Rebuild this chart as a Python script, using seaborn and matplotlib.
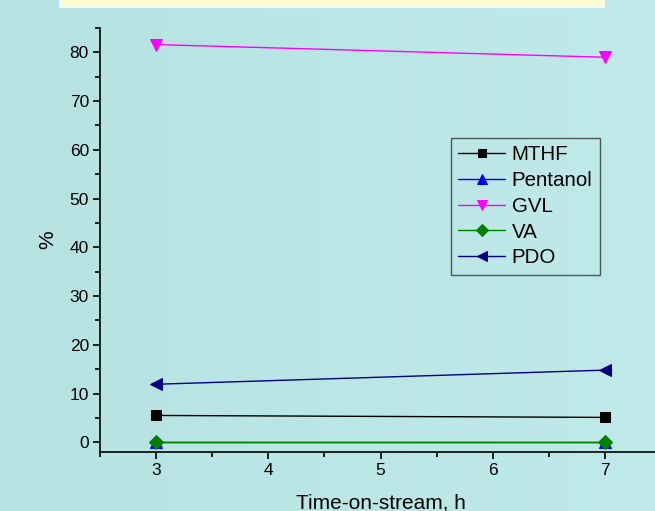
import numpy as np
import pandas as pd
import matplotlib
matplotlib.use("Agg")
import matplotlib.pyplot as plt
from matplotlib.patches import Rectangle
from matplotlib.ticker import MultipleLocator
from matplotlib.colors import LinearSegmentedColormap
import seaborn as sns

# ---- data ----
time_h = [3, 7]
mthf = [5.5, 5.1]
pentanol = [0.1, 0.1]
gvl = [81.6, 79.0]
va = [0.1, 0.1]
pdo = [11.9, 14.8]
series_names = ["MTHF", "Pentanol", "GVL", "VA", "PDO"]
x_ticks = [3, 4, 5, 6, 7]
y_ticks = [0, 10, 20, 30, 40, 50, 60, 70, 80]

sns.set_theme(style="ticks")
plt.rcParams['font.family'] = ['Liberation Sans', 'DejaVu Sans']
plt.rcParams['text.color'] = '#000000'

values = {"MTHF": mthf, "Pentanol": pentanol, "GVL": gvl, "VA": va, "PDO": pdo}
df = pd.DataFrame([
    {"time": t, "value": v, "series": name}
    for name in series_names for t, v in zip(time_h, values[name])
])

palette = {"MTHF": "#000000", "Pentanol": "#0000ff", "GVL": "#ff00ff",
           "VA": "#008000", "PDO": "#000080"}
markers = {"MTHF": "s", "Pentanol": "^", "GVL": "v", "VA": "D", "PDO": "<"}
msizes = {"MTHF": 7, "Pentanol": 8, "GVL": 9, "VA": 7, "PDO": 9}

bg = "#b9e5e5"
fig = plt.figure(figsize=(6.55, 5.11), dpi=100)
fig.patch.set_facecolor(bg)

# subtle background gradient
gax = fig.add_axes([0, 0, 1, 1], zorder=-10)
grad = np.linspace(0, 1, 512)[None, :]
cmap = LinearSegmentedColormap.from_list("bgc", ["#b6e2e2", "#c0eaea"])
gax.imshow(grad, aspect="auto", cmap=cmap, extent=[0, 1, 0, 1],
           interpolation="bilinear")
gax.axis("off")

# top yellow banner
fig.patches.append(Rectangle((60 / 655, 1 - 7 / 511), 544 / 655, 7 / 511 + 0.01,
                             transform=fig.transFigure, facecolor="#fefdcf",
                             edgecolor="#f4f8f0", linewidth=1.5, zorder=1))

ax = fig.add_axes([100 / 655, 59 / 511, 561 / 655, 424 / 511])
ax.set_facecolor("none")

for name in series_names:
    sub = df[df["series"] == name]
    sns.lineplot(data=sub, x="time", y="value", ax=ax, color=palette[name],
                 marker=markers[name], markersize=msizes[name],
                 markeredgecolor=palette[name], linewidth=1.0, label=name,
                 clip_on=False)

ax.set_xlim(2.5, 7.5)
ax.set_ylim(-2, 85)
ax.set_xticks(x_ticks)
ax.set_yticks(y_ticks)
ax.xaxis.set_minor_locator(MultipleLocator(0.5))
ax.yaxis.set_minor_locator(MultipleLocator(5))
ax.tick_params(axis="both", which="major", direction="out", length=5, width=1.2,
               labelsize=12.5, colors="#000000", pad=3)
ax.tick_params(axis="both", which="minor", direction="out", length=3.5, width=1.2,
               colors="#000000")
for s in ["top", "right"]:
    ax.spines[s].set_visible(False)
for s in ["left", "bottom"]:
    ax.spines[s].set_linewidth(1.2)
    ax.spines[s].set_color("#000000")

ax.set_xlabel("Time-on-stream, h", fontsize=15, labelpad=11, color="#000000")
ax.set_ylabel("%", fontsize=15, labelpad=9, color="#000000")

leg = ax.legend(loc="upper left", bbox_to_anchor=(351 / 561, 1 - 110 / 424),
                frameon=True, fancybox=False, fontsize=14.8, handlelength=2.3,
                handletextpad=0.3, labelspacing=0.33, borderpad=0.35,
                borderaxespad=0, markerscale=0.85, labelcolor="#000000")
leg.get_frame().set_facecolor("none")
leg.get_frame().set_edgecolor("#333333")
leg.get_frame().set_linewidth(1.0)

fig.savefig("out.png", dpi=100, facecolor=fig.get_facecolor())
